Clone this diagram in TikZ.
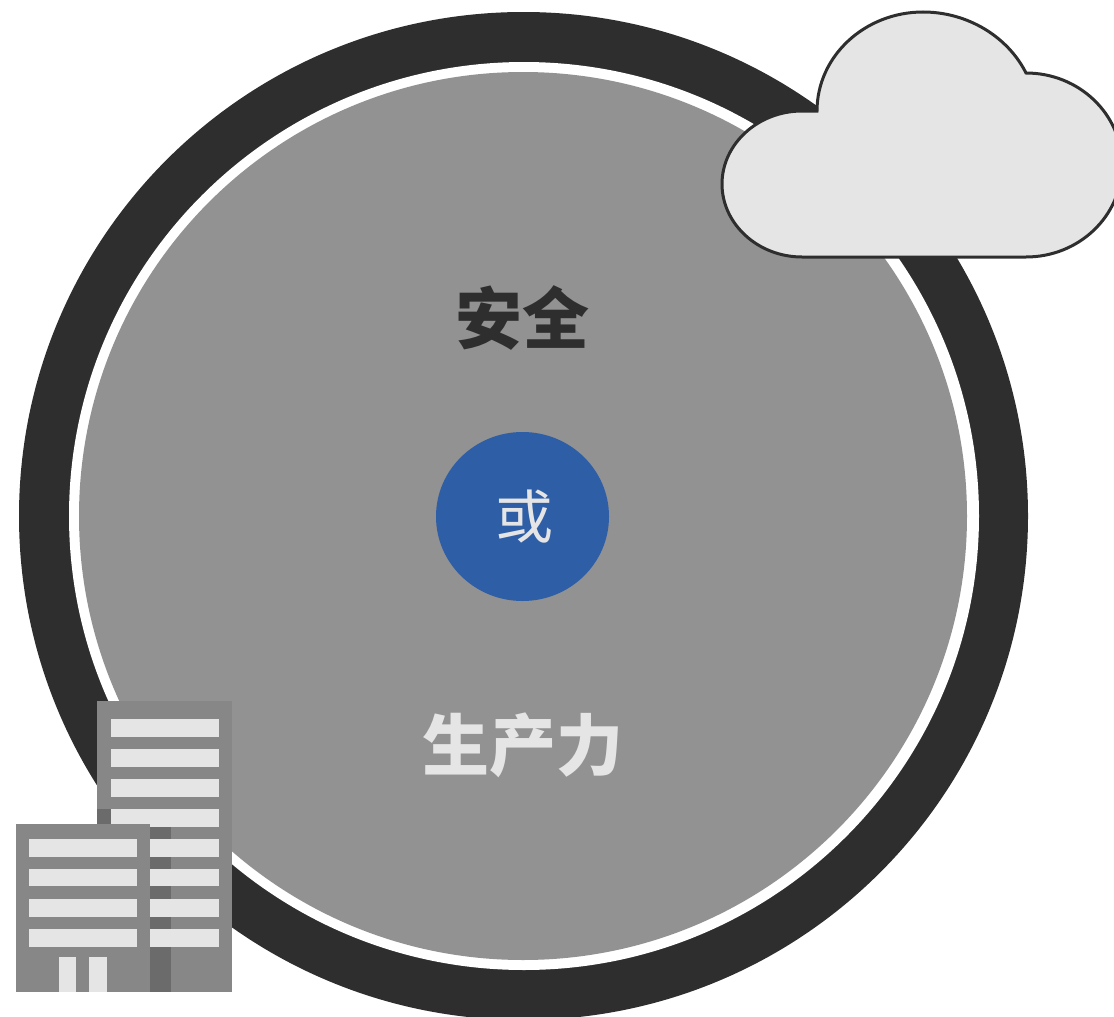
\documentclass[tikz,border=0pt]{standalone}
\usepackage{fontspec}
\setmainfont{Noto Sans CJK SC}
\usetikzlibrary{shapes.geometric}
\definecolor{ringblack}{HTML}{2E2E2E}
\definecolor{discgrey}{HTML}{929292}
\definecolor{orblue}{HTML}{2D5EA6}
\definecolor{lightfill}{HTML}{E5E5E5}
\definecolor{towergrey}{HTML}{878787}
\definecolor{towerdark}{HTML}{6B6B6B}
\tikzstyle{disc} = [ellipse, inner sep=0pt, outer sep=0pt, draw=none]
\tikzstyle{bigword} = [font=\bfseries\fontsize{67}{67}\selectfont, inner sep=0pt]
\tikzstyle{tower} = [fill=towergrey]
\tikzstyle{shade} = [fill=towerdark]
\tikzstyle{pane} = [fill=lightfill]
\tikzstyle{cloudline} = [draw=ringblack, fill=lightfill, line width=3pt, line join=miter]

\begin{document}
\begin{tikzpicture}[x=1pt, y=-1pt]
\useasboundingbox (0,0) rectangle (1114,1017);

\node (ring) [disc, fill=ringblack, minimum width=1009pt, minimum height=1008pt] at (523.5,516) {};
\node (gap) [disc, fill=white, minimum width=910pt, minimum height=908pt] at (524,516) {};
\node (core) [disc, fill=discgrey, minimum width=888pt, minimum height=888pt] at (523,516) {};

\node (safe) [bigword, text=ringblack] at (522,318) {安全};
\node (prod) [bigword, text=lightfill] at (523,745) {生产力};
\node (orbit) [disc, fill=orblue, minimum width=173pt, minimum height=169pt] at (522.5,516.5) {};
\node (or) [font=\fontsize{58}{58}\selectfont, text=lightfill, inner sep=0pt] at (524,517) {或};

% back tower
\fill [tower] (97,701) rectangle (232,992);
\fill [shade] (97,809) rectangle (171,992);
\fill [pane] (111,719) rectangle (219,737);
\fill [pane] (111,749) rectangle (219,767);
\fill [pane] (111,779) rectangle (219,797);
\fill [pane] (111,809) rectangle (219,827);
\fill [pane] (111,839) rectangle (219,857);
\fill [pane] (111,869) rectangle (219,886);
\fill [pane] (111,899) rectangle (219,917);
\fill [pane] (111,929) rectangle (219,947);
\fill [tower] (171,827) rectangle (219,992);
\fill [pane] (171,839) rectangle (219,857);
\fill [pane] (171,869) rectangle (219,886);
\fill [pane] (171,899) rectangle (219,917);
\fill [pane] (171,929) rectangle (219,947);

% front tower
\fill [tower] (16,824) rectangle (150,992);
\fill [pane] (29,839) rectangle (137,857);
\fill [pane] (29,869) rectangle (137,886);
\fill [pane] (29,899) rectangle (137,917);
\fill [pane] (29,929) rectangle (137,947);
\fill [pane] (59,957) rectangle (76,992);
\fill [pane] (89,957) rectangle (107,992);

% cloud
\draw [cloudline] (817,111)
  .. controls (817,56) and (865,12) .. (923,12)
  .. controls (968,12) and (1008,37) .. (1026,73)
  .. controls (1079,73) and (1122,114) .. (1122,165)
  .. controls (1122,216) and (1079,257) .. (1026,257)
  -- (802,257)
  .. controls (758,257) and (722,224) .. (722,184)
  .. controls (722,144) and (758,111) .. (802,111)
  -- cycle;

\end{tikzpicture}
\end{document}
